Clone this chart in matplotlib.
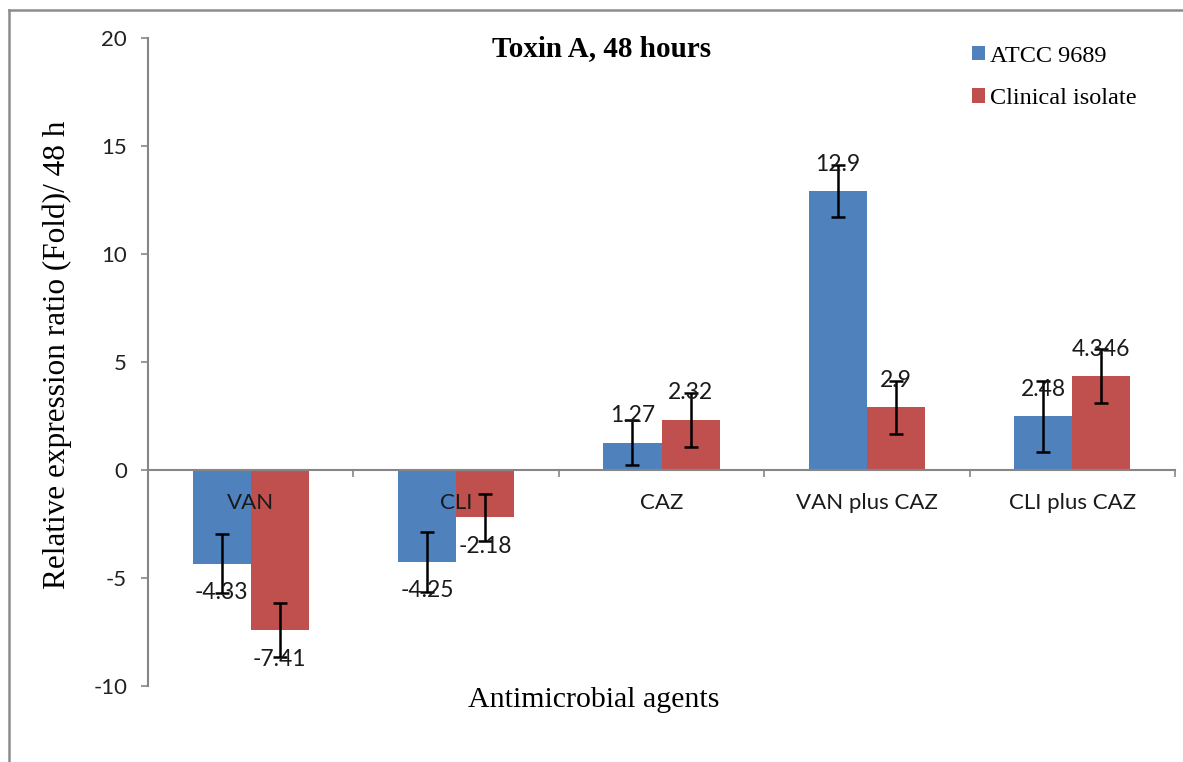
import matplotlib
matplotlib.use("Agg")
import matplotlib.pyplot as plt
from matplotlib.lines import Line2D
import numpy as np

categories = ["VAN", "CLI", "CAZ", "VAN plus CAZ", "CLI plus CAZ"]
series_names = ["ATCC 9689", "Clinical isolate"]
atcc = [-4.33, -4.25, 1.27, 12.9, 2.48]
clinical = [-7.41, -2.18, 2.32, 2.9, 4.346]
atcc_err = [1.35, 1.39, 1.04, 1.2, 1.65]
clinical_err = [1.23, 1.09, 1.25, 1.23, 1.25]
atcc_labels = ["-4.33", "-4.25", "1.27", "12.9", "2.48"]
clinical_labels = ["-7.41", "-2.18", "2.32", "2.9", "4.346"]
yticks = [-10, -5, 0, 5, 10, 15, 20]

blue = "#4F81BD"
red = "#C0504D"
axis_gray = "#868686"
sans = ["Lato", "DejaVu Sans"]
serif = ["Liberation Serif", "DejaVu Serif"]

fig = plt.figure(figsize=(11.83, 7.62), dpi=100)
ax = fig.add_axes([148 / 1183, 1 - 686 / 762, (1175 - 148) / 1183, (686 - 38) / 762])

x = np.arange(len(categories))
w = 0.283
b1 = ax.bar(x - w / 2, atcc, w, color=blue, zorder=2)
b2 = ax.bar(x + w / 2, clinical, w, color=red, zorder=2)
ax.errorbar(x - w / 2, atcc, yerr=atcc_err, fmt="none", ecolor="black",
            elinewidth=1.8, capsize=5, capthick=1.8, zorder=3)
ax.errorbar(x + w / 2, clinical, yerr=clinical_err, fmt="none", ecolor="black",
            elinewidth=1.8, capsize=5, capthick=1.8, zorder=3)

# value labels outside bar ends
for xs, vals, labs in [(x - w / 2, atcc, atcc_labels), (x + w / 2, clinical, clinical_labels)]:
    for xi, v, lab in zip(xs, vals, labs):
        off = 27 if v >= 0 else -29
        ax.annotate(lab, (xi, v), xytext=(0, off), textcoords="offset pixels",
                    ha="center", va="center", fontsize=16.5, family=sans,
                    color="#1a1a1a", zorder=4)

# category labels next to the zero line
for xi, cat in zip(x, categories):
    ax.annotate(cat, (xi, 0), xytext=(0, -33), textcoords="offset pixels",
                ha="center", va="center", fontsize=16, family=sans,
                color="#1a1a1a", zorder=4)

ax.set_xlim(-0.5, 4.5)
ax.set_ylim(-10, 20)
ax.set_yticks(yticks)
ax.set_yticklabels([str(t) for t in yticks], fontsize=16, family=sans, color="#222222")
ax.set_xticks(np.arange(0.5, 5, 1))
ax.set_xticklabels([])
ax.tick_params(axis="y", direction="out", length=5, width=1.2, color=axis_gray, pad=10)
ax.tick_params(axis="x", direction="out", length=5, width=1.2, color=axis_gray)

for s in ["top", "right"]:
    ax.spines[s].set_visible(False)
ax.spines["bottom"].set_position(("data", 0))
ax.spines["bottom"].set_color(axis_gray)
ax.spines["bottom"].set_linewidth(1.5)
ax.spines["left"].set_color(axis_gray)
ax.spines["left"].set_linewidth(1.5)

ax.set_ylabel("Relative expression ratio (Fold)/ 48 h", fontsize=22.5, family=serif)
ax.yaxis.set_label_coords((72 - 148) / 1027, (686 - 355) / 648)
fig.text(594 / 1183, 1 - 700 / 762, "Antimicrobial agents", ha="center", va="center",
         fontsize=21.5, family=serif)
fig.text(602 / 1183, 1 - 49 / 762, "Toxin A, 48 hours", ha="center", va="center",
         fontsize=21, family=serif, fontweight="bold")

leg = ax.legend([b1, b2], series_names, loc="upper left",
                bbox_to_anchor=(962 / 1183, 1 - 36 / 762), bbox_transform=fig.transFigure,
                frameon=False, prop={"family": serif, "size": 17.5},
                handlelength=0.55, handleheight=0.55, handletextpad=0.22,
                labelspacing=0.88, borderaxespad=0)

# outer chart frame (cropped)
fig.add_artist(Line2D([9 / 1183, 9 / 1183], [0, 1 - 10 / 762], transform=fig.transFigure,
                      color="#8c8c8c", lw=1.8))
fig.add_artist(Line2D([9 / 1183, 1], [1 - 10 / 762, 1 - 10 / 762], transform=fig.transFigure,
                      color="#8c8c8c", lw=1.8))

fig.savefig("out.png", dpi=100)
